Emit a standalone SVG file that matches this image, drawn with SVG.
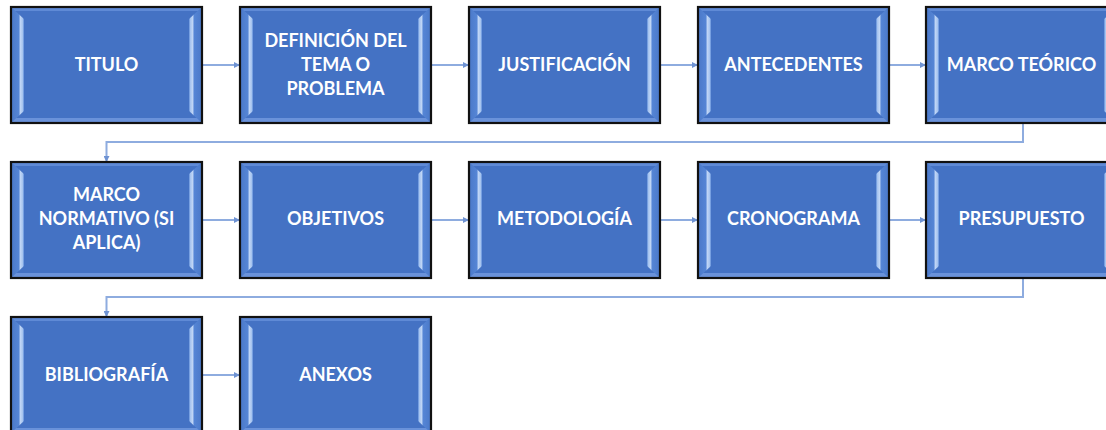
<svg xmlns="http://www.w3.org/2000/svg" xmlns:xlink="http://www.w3.org/1999/xlink" width="1106" height="430" viewBox="0 0 1106 430">
<defs>
<linearGradient id="gl" x1="0" y1="0" x2="1" y2="0">
<stop offset="0" stop-color="#4a78c8"/>
<stop offset="0.6" stop-color="#5585d5"/>
<stop offset="0.72" stop-color="#c0d6f6"/>
<stop offset="0.9" stop-color="#a5c3ef"/>
<stop offset="1" stop-color="#5b8ad8"/>
</linearGradient>
<linearGradient id="gr" x1="1" y1="0" x2="0" y2="0">
<stop offset="0" stop-color="#4a78c8"/>
<stop offset="0.6" stop-color="#5585d5"/>
<stop offset="0.72" stop-color="#c0d6f6"/>
<stop offset="0.9" stop-color="#a5c3ef"/>
<stop offset="1" stop-color="#5b8ad8"/>
</linearGradient>
<g id="box">
<rect x="0" y="0" width="191" height="116" fill="#4472c4"/>
<rect x="0" y="0" width="191" height="4" fill="#5f8ad6"/>
<rect x="0" y="111" width="191" height="5" fill="#6a92da"/>
<polygon points="0,0 13,12 13,104 0,116" fill="url(#gl)"/>
<polygon points="191,0 178,12 178,104 191,116" fill="url(#gr)"/>
<rect x="0" y="0" width="191" height="116" fill="none" stroke="#111" stroke-width="2.2"/>
</g>
<marker id="arr" markerWidth="6" markerHeight="6" refX="5" refY="3" orient="auto" markerUnits="userSpaceOnUse">
<path d="M0,0 L6,3 L0,6 z" fill="#6f93d3"/>
</marker>
</defs>
<style>
.t{font-family:Lato,"Liberation Sans",sans-serif;font-weight:700;font-size:18px;fill:#fff;text-anchor:middle}
.c{fill:none;stroke:#8eacdf;stroke-width:2}
</style>
<g id="connectors">
<path class="c" d="M203,65 H239" marker-end="url(#arr)"/>
<path class="c" d="M432,65 H468" marker-end="url(#arr)"/>
<path class="c" d="M661,65 H697" marker-end="url(#arr)"/>
<path class="c" d="M890,65 H925" marker-end="url(#arr)"/>
<path class="c" d="M1023,124 V142 H106.5 V161" marker-end="url(#arr)"/>
<path class="c" d="M203,220 H239" marker-end="url(#arr)"/>
<path class="c" d="M432,220 H468" marker-end="url(#arr)"/>
<path class="c" d="M661,220 H697" marker-end="url(#arr)"/>
<path class="c" d="M890,220 H925" marker-end="url(#arr)"/>
<path class="c" d="M1023,278 V297 H106.5 V316" marker-end="url(#arr)"/>
<path class="c" d="M203,375 H239" marker-end="url(#arr)"/>
</g>
<g id="n1"><use xlink:href="#box" x="11" y="7"/><text class="t" x="106.5" y="71">TITULO</text></g>
<g id="n2"><use xlink:href="#box" x="240" y="7"/><text class="t" x="335.5" y="47">DEFINICIÓN DEL</text><text class="t" x="335.5" y="71">TEMA O</text><text class="t" x="335.5" y="95">PROBLEMA</text></g>
<g id="n3"><use xlink:href="#box" x="469" y="7"/><text class="t" x="564.5" y="71">JUSTIFICACIÓN</text></g>
<g id="n4"><use xlink:href="#box" x="698" y="7"/><text class="t" x="793.5" y="71">ANTECEDENTES</text></g>
<g id="n5"><use xlink:href="#box" x="926" y="7"/><text class="t" x="1021.5" y="71">MARCO TEÓRICO</text></g>
<g id="n6"><use xlink:href="#box" x="11" y="162"/><text class="t" x="106.5" y="201">MARCO</text><text class="t" x="106.5" y="225">NORMATIVO (SI</text><text class="t" x="106.5" y="249">APLICA)</text></g>
<g id="n7"><use xlink:href="#box" x="240" y="162"/><text class="t" x="335.5" y="225">OBJETIVOS</text></g>
<g id="n8"><use xlink:href="#box" x="469" y="162"/><text class="t" x="564.5" y="225">METODOLOGÍA</text></g>
<g id="n9"><use xlink:href="#box" x="698" y="162"/><text class="t" x="793.5" y="225">CRONOGRAMA</text></g>
<g id="n10"><use xlink:href="#box" x="926" y="162"/><text class="t" x="1021.5" y="225">PRESUPUESTO</text></g>
<g id="n11"><use xlink:href="#box" x="11" y="317"/><text class="t" x="106.5" y="381">BIBLIOGRAFÍA</text></g>
<g id="n12"><use xlink:href="#box" x="240" y="317"/><text class="t" x="335.5" y="381">ANEXOS</text></g>
</svg>
